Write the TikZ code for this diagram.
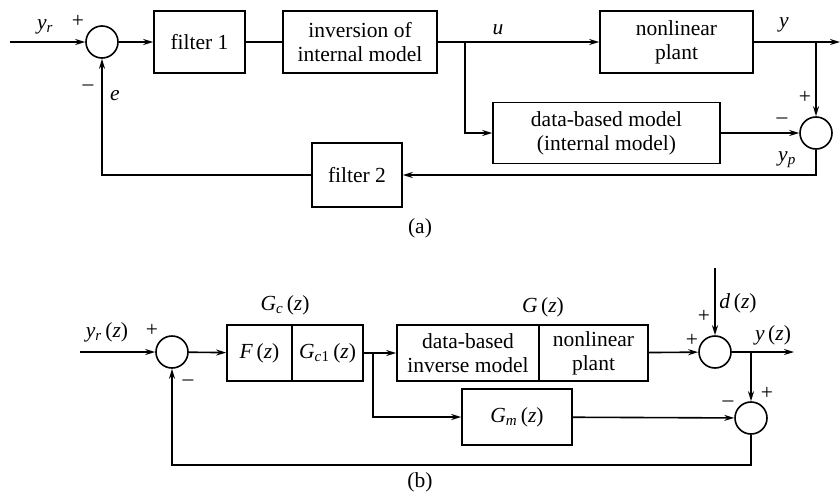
\documentclass[tikz,border=0pt]{standalone}
\usepackage{fontspec}
\setmainfont{Liberation Serif}
\newfontfamily\blockfont{Liberation Serif}
\usetikzlibrary{arrows.meta}
\newcommand{\iv}[1]{\textit{#1}}
\newcommand{\sbi}[1]{\textsubscript{\textit{#1}}}
\begin{document}
\begin{tikzpicture}[x=1pt,y=-1pt,
  font=\blockfont\fontsize{21.5}{24}\selectfont,
  every path/.style={line width=1.6pt},
  sig/.style={-{Stealth[length=10pt,width=6pt]}},
  blk/.style={draw, line width=1.6pt, inner sep=0pt, align=center},
  sumc/.style={draw, circle, line width=1.6pt, minimum size=32pt, inner sep=0pt},
  lbl/.style={inner sep=0pt}]
\useasboundingbox (0,0) rectangle (840,496);

% ---------- (a) ----------
\node[sumc] (s1) at (102,42) {};
\node[blk, minimum width=91pt, minimum height=62pt] (f1) at (199.5,42) {filter 1};
\node[blk, minimum width=154pt, minimum height=62pt] (inv) at (360,42) {inversion of\\internal model};
\node[blk, minimum width=153pt, minimum height=62pt] (pl) at (676.5,42) {nonlinear\\plant};
\node[blk, minimum width=227pt, minimum height=61pt] (dbm) at (606.5,133) {data-based model\\(internal model)};
\node[blk, minimum width=90pt, minimum height=64pt] (f2) at (357,175) {filter 2};
\node[sumc] (s2) at (816,133) {};

\coordinate (ain) at (10,42);
\coordinate (au) at (465,42);
\coordinate (ay) at (816,42);
\coordinate (aout) at (840,42);
\coordinate (ab) at (816,175);
\coordinate (ae) at (102,175);

\draw[sig] (ain) -- (s1);
\draw[sig] (s1) -- (f1);
\draw (f1) -- (inv);
\draw[sig] (inv) -- (pl);
\draw[sig] (pl) -- (aout);
\draw[sig] (au) |- (dbm);
\draw[sig] (ay) -- (s2);
\draw[sig] (dbm) -- (s2);
\draw[sig] (s2) -- (ab) -- (f2);
\draw[sig] (f2) -- (ae) -- (s1);

\node[lbl] (lyr) at (45,27) {\iv{y}\sbi{r}};
\node[lbl] (lp1) at (78,21) {+};
\node[lbl] (lm1) at (88,88) {\textendash};
\node[lbl] (le) at (115,96) {\iv{e}};
\node[lbl] (lu) at (498,30) {\iv{u}};
\node[lbl] (ly) at (784,25) {\iv{y}};
\node[lbl] (lp2) at (805,97) {+};
\node[lbl] (lm2) at (782,121) {\textendash};
\node[lbl] (lyp) at (787,160) {\iv{y}\sbi{p}};
\node[lbl] (la) at (420,228) {(a)};

% ---------- (b) ----------
\node[sumc] (s3) at (172,352) {};
\node[blk, minimum width=65pt, minimum height=56pt] (F) at (259.5,353) {\iv{F}\,(\iv{z})};
\node[blk, minimum width=71pt, minimum height=56pt] (Gc1) at (327.5,353) {\iv{G}\sbi{c}\textsubscript{1}\,(\iv{z})};
\node[blk, minimum width=142pt, minimum height=56pt] (dbi) at (468,353) {data-based\\inverse model};
\node[blk, minimum width=109pt, minimum height=56pt] (np) at (593.5,353) {nonlinear\\plant};
\node[blk, minimum width=110pt, minimum height=56pt] (Gm) at (517,417) {\iv{G}\sbi{m}\,(\iv{z})};
\node[sumc] (s4) at (715,352) {};
\node[sumc] (s5) at (751,418) {};

\coordinate (bin) at (80,352);
\coordinate (bu) at (373,352);
\coordinate (bd) at (715,268);
\coordinate (by) at (751,352);
\coordinate (bout) at (794,352);
\coordinate (bfb) at (751,465);
\coordinate (bfl) at (172,465);

\draw[sig] (bin) -- (s3);
\draw[sig] (s3) -- (F);
\draw[sig] (Gc1) -- (dbi);
\draw[sig] (bu) |- (Gm);
\draw[sig] (np) -- (s4);
\draw[sig] (bd) -- (s4);
\draw[sig] (s4) -- (bout);
\draw[sig] (by) -- (s5);
\draw[sig] (Gm) -- (s5);
\draw[sig] (s5) -- (bfb) -- (bfl) -- (s3);

\node[lbl] (lyrz) at (107,332) {\iv{y}\sbi{r}\,(\iv{z})};
\node[lbl] (lp3) at (152,330) {+};
\node[lbl] (lm3) at (188,383) {\textendash};
\node[lbl] (lgc) at (285,305) {\iv{G}\sbi{c}\,(\iv{z})};
\node[lbl] (lg) at (543,307) {\iv{G}\,(\iv{z})};
\node[lbl] (ldz) at (738,303) {\iv{d}\,(\iv{z})};
\node[lbl] (lp4) at (704,316) {+};
\node[lbl] (lp5) at (692,340) {+};
\node[lbl] (lyz) at (773,335) {\iv{y}\,(\iv{z})};
\node[lbl] (lp6) at (767,393) {+};
\node[lbl] (lm6) at (728,404) {\textendash};
\node[lbl] (lb) at (420,482) {(b)};
\end{tikzpicture}
\end{document}
